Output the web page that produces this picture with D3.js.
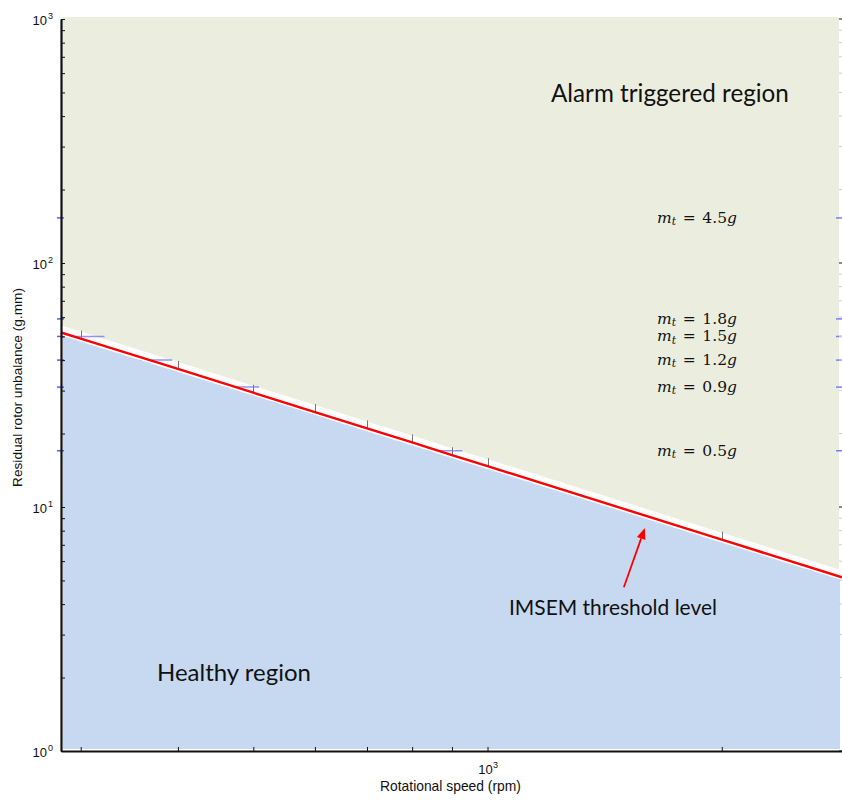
<!DOCTYPE html>
<html><head><meta charset="utf-8">
<script src="https://cdn.jsdelivr.net/npm/d3@7"></script>
<style>body{margin:0;background:#fff} svg{display:block}</style>
</head><body>
<svg id="chart" width="842" height="800"></svg>
<script>
// ---------- data ----------
const speeds = [283, 300, 400, 500, 600, 700, 800, 900, 1000, 2000, 2855];
const thresholdUnbalance = [51.9, 49.0, 36.8, 29.4, 24.5, 21.0, 18.4, 16.3, 14.7, 7.35, 5.15];
const markedSpeeds = [300, 400, 500, 600, 700, 800, 900, 1000, 2000];
const testMasses = ["4.5", "1.8", "1.5", "1.2", "0.9", "0.5"];
const massUnbalance = [153, 59, 50, 40, 31, 17];
const massMarkerSpeeds = [null, null, 307, 375, 485, 885];
const yTickValues = [1, 10, 100, 1000];
const yTickExponents = ["0", "1", "2", "3"];
const xTickValues = [1000];
const xTickExponents = ["3"];
const regionLabels = ["Alarm triggered region", "Healthy region", "IMSEM threshold level"];
const arrowFrom = [1497, 4.69];
const arrowTo = [1593, 8.2];
const xTitle = "Rotational speed (rpm)";
const yTitle = "Residual rotor unbalance (g.mm)";

// ---------- layout ----------
const svg = d3.select("#chart");
const W = 842, H = 800;
const pL = 61, pR = 842, pT = 19, pB = 751;
const x = d3.scaleLog().domain([283, 2855]).range([pL, pR]);
const y = d3.scaleLog().domain([1, 1000]).range([pB, pT]);

const pts = speeds.map((s, i) => ({s, v: thresholdUnbalance[i]}));
const GAP = 7;

const defs = svg.append("defs");
defs.append("clipPath").attr("id", "clipGreen").append("rect")
  .attr("x", pL + 1).attr("y", 17).attr("width", 839 - pL - 1).attr("height", pB - 17);
defs.append("clipPath").attr("id", "clipBlue").append("rect")
  .attr("x", pL + 2).attr("y", 0).attr("width", 840 - pL - 2).attr("height", pB - 2);

// alarm region
svg.append("path")
  .attr("clip-path", "url(#clipGreen)")
  .attr("fill", "#ebeedf")
  .attr("d", d3.area().x(d => x(d.s)).y0(0).y1(d => y(d.v) - GAP)(pts));

// healthy region
svg.append("path")
  .attr("clip-path", "url(#clipBlue)")
  .attr("fill", "#c6d9f0")
  .attr("d", d3.area().x(d => x(d.s)).y0(d => y(d.v) + 1.5).y1(H)(pts));

// test-mass level markers (partially visible horizontal segments)
const lv = svg.append("g");
massUnbalance.forEach((u, i) => {
  const yy = y(u);
  lv.append("line").attr("x1", pL - 4).attr("x2", pL + 3).attr("y1", yy).attr("y2", yy)
    .attr("stroke", "#5a5aff").attr("stroke-width", 1.5);
  lv.append("line").attr("x1", pR - 6).attr("x2", pR).attr("y1", yy).attr("y2", yy)
    .attr("stroke", "#7a7aff").attr("stroke-width", 1.5);
  if (massMarkerSpeeds[i]) {
    const cx = x(massMarkerSpeeds[i]);
    lv.append("line").attr("x1", Math.max(pL + 2, cx - 16)).attr("x2", cx + 16).attr("y1", yy).attr("y2", yy)
      .attr("stroke", "#6f6fff").attr("stroke-opacity", 0.75).attr("stroke-width", 1.5);
  }
});

// threshold tick marks
const tk = svg.append("g");
pts.filter(d => markedSpeeds.includes(d.s)).forEach(d => {
  const cx = Math.round(x(d.s)) + 0.5, cy = y(d.v);
  tk.append("line").attr("x1", cx).attr("x2", cx).attr("y1", cy - 8).attr("y2", cy + 3)
    .attr("stroke", "#777").attr("stroke-width", 1);
});

// threshold line
const line = d3.line().x(d => x(d.s)).y(d => y(d.v));
svg.append("path").attr("d", line(pts)).attr("fill", "none")
  .attr("stroke", "#fff").attr("stroke-width", 2.5).attr("transform", "translate(0,1.6)")
  .attr("clip-path", "url(#clipBlue)");
svg.append("path").attr("d", line(pts)).attr("fill", "none")
  .attr("stroke", "#ff0000").attr("stroke-width", 2.4);

// ---------- axes ----------
const yAx = svg.append("g").attr("transform", `translate(${pL},0)`)
  .call(d3.axisLeft(y).tickValues(y.ticks()).tickSizeInner(-4).tickSizeOuter(0).tickFormat(""));
yAx.select(".domain").attr("stroke", "#111").attr("stroke-width", 2.2);
yAx.selectAll(".tick line").attr("stroke", "#111").attr("stroke-width", 1);

const xAx = svg.append("g").attr("transform", `translate(0,${pB})`)
  .call(d3.axisBottom(x).tickValues(x.ticks()).tickSizeInner(-4).tickSizeOuter(0).tickFormat(""));
xAx.select(".domain").attr("stroke", "#111").attr("stroke-width", 2.2);
xAx.selectAll(".tick line").attr("stroke", "#111").attr("stroke-width", 1);

// right-side faint ticks
const rAx = svg.append("g");
y.ticks().forEach(t => {
  const major = yTickValues.includes(t);
  rAx.append("line").attr("x1", pR - 3).attr("x2", pR).attr("y1", y(t)).attr("y2", y(t))
    .attr("stroke", major ? "#111" : "#ccc").attr("stroke-width", 1);
});

// tick labels
const axFont = "'Liberation Sans', Arial, sans-serif";
yTickValues.forEach((t, i) => {
  svg.append("text").attr("x", 47).attr("y", y(t) + 6)
    .attr("text-anchor", "end").attr("font-family", axFont).attr("font-size", 13).attr("fill", "#111")
    .text("10");
  svg.append("text").attr("x", 48).attr("y", y(t) - 0.5)
    .attr("font-family", axFont).attr("font-size", 9).attr("fill", "#111").text(yTickExponents[i]);
});
xTickValues.forEach((t, i) => {
  svg.append("text").attr("x", x(t) - 2).attr("y", 774)
    .attr("text-anchor", "middle").attr("font-family", axFont).attr("font-size", 13).attr("fill", "#111")
    .text("10");
  svg.append("text").attr("x", x(t) + 5.5).attr("y", 767.5)
    .attr("font-family", axFont).attr("font-size", 9).attr("fill", "#111").text(xTickExponents[i]);
});

function fit(sel, w) {
  const fs = parseFloat(sel.attr("font-size"));
  const cur = sel.node().getBBox().width;
  if (cur > 0) sel.attr("font-size", fs * w / cur);
  return sel;
}

// axis titles
fit(svg.append("text").attr("x", 450.5).attr("y", 791).attr("text-anchor", "middle")
  .attr("font-family", axFont).attr("font-size", 12).attr("fill", "#111").text(xTitle), 141);
fit(svg.append("text").attr("transform", "translate(22,387.5) rotate(-90)").attr("text-anchor", "middle")
  .attr("font-family", axFont).attr("font-size", 12).attr("fill", "#111").text(yTitle), 199);

// ---------- annotations ----------
const lblFont = "Lato, 'Open Sans', sans-serif";
fit(svg.append("text").attr("x", 551).attr("y", 102).attr("font-family", lblFont)
  .attr("font-size", 24).attr("fill", "#111").text(regionLabels[0]), 238);
fit(svg.append("text").attr("x", 157).attr("y", 681).attr("font-family", lblFont)
  .attr("font-size", 22).attr("fill", "#111").text(regionLabels[1]), 154);
fit(svg.append("text").attr("x", 509).attr("y", 615).attr("font-family", lblFont)
  .attr("font-size", 20).attr("fill", "#111").text(regionLabels[2]), 208);

// arrow
const ax0 = x(arrowFrom[0]), ay0 = y(arrowFrom[1]);
const ax1 = x(arrowTo[0]), ay1 = y(arrowTo[1]);
const ang = Math.atan2(ay1 - ay0, ax1 - ax0);
const hl = 11, hw = 4.5;
const bx = ax1 - hl * Math.cos(ang), by = ay1 - hl * Math.sin(ang);
svg.append("line").attr("x1", ax0).attr("y1", ay0).attr("x2", bx).attr("y2", by)
  .attr("stroke", "#ff0000").attr("stroke-width", 1.8);
svg.append("path").attr("fill", "#ff0000").attr("d",
  `M${ax1},${ay1}L${bx + hw * Math.sin(ang)},${by - hw * Math.cos(ang)}L${bx - hw * Math.sin(ang)},${by + hw * Math.cos(ang)}Z`);

// test-mass labels
const mathFont = "'DejaVu Serif', 'Liberation Serif', serif";
testMasses.forEach((m, i) => {
  const t = svg.append("text").attr("x", 657).attr("y", y(massUnbalance[i]) + 5)
    .attr("font-family", mathFont).attr("font-size", 15.5).attr("fill", "#111");
  t.append("tspan").attr("font-style", "italic").text("m");
  t.append("tspan").attr("font-style", "italic").attr("font-size", "0.7em").attr("dy", "0.2em").text("t");
  const eq = t.append("tspan").attr("dy", "-0.14em").attr("dx", 3).text("=");
  const num = t.append("tspan").attr("dx", 3).text(m);
  t.append("tspan").attr("font-style", "italic").text("g");
  const extra = Math.max(0, 80 - t.node().getBBox().width);
  eq.attr("dx", 3 + extra / 2);
  num.attr("dx", 3 + extra / 2);
});
</script>
</body></html>
